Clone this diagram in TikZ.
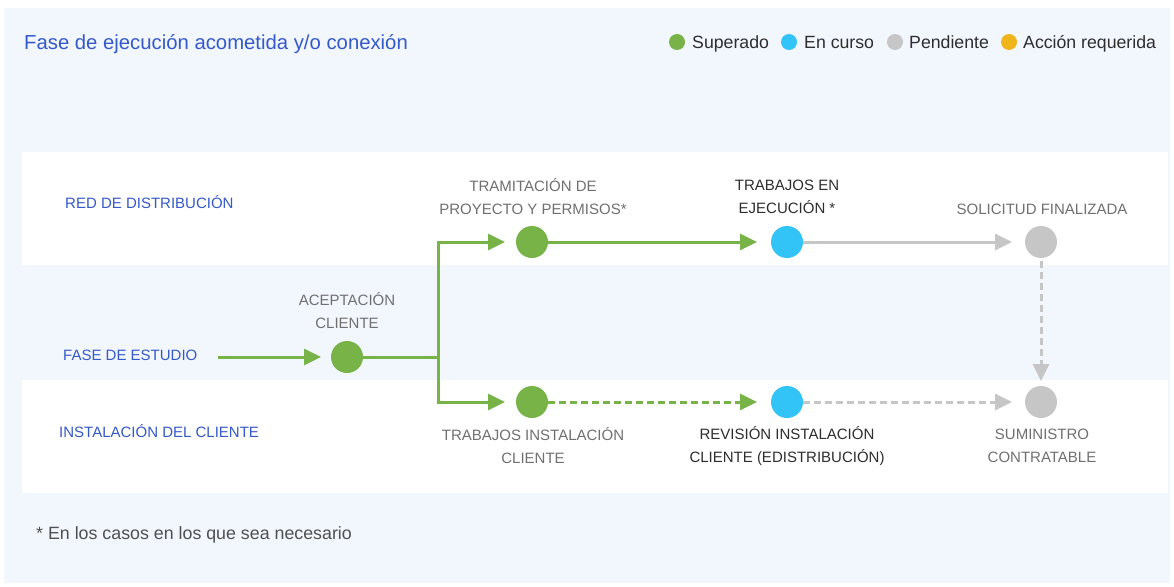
\documentclass[tikz,border=0pt]{standalone}
\usepackage{fontspec}
\setmainfont{Liberation Sans}
\usetikzlibrary{arrows.meta}
\definecolor{bgblue}{HTML}{F2F7FD}
\definecolor{okgreen}{HTML}{77B347}
\definecolor{curblue}{HTML}{33C4F7}
\definecolor{pendgray}{HTML}{C6C6C6}
\definecolor{actyellow}{HTML}{F0B51B}
\definecolor{titleblue}{HTML}{3559C9}
\definecolor{lblgray}{HTML}{707070}
\definecolor{lbldark}{HTML}{2E2E2E}
\definecolor{footgray}{HTML}{505050}
\begin{document}
\begin{tikzpicture}[x=1pt,y=-1pt,
  dot/.style={circle, minimum size=32pt, inner sep=0pt, outer sep=0pt, draw=none, fill=#1},
  legdot/.style={circle, minimum size=16pt, inner sep=0pt, fill=#1},
  legtext/.style={font=\fontsize{17.7}{20}\selectfont, text=lbldark, anchor=base west, inner sep=0pt},
  steplabel/.style={font=\fontsize{15}{23}\selectfont, align=center, text=lblgray, inner sep=0pt},
  darklabel/.style={steplabel, text=lbldark},
  sidelabel/.style={font=\fontsize{15}{18}\selectfont, text=titleblue, anchor=base west, inner sep=0pt},
  flow/.style={line width=3pt, draw=#1, -{Triangle[length=17pt,width=16pt]}},
  dashflow/.style={flow=#1, dash pattern=on 7pt off 4pt},
]
\useasboundingbox (0,0) rectangle (1174,586);
\fill[white] (0,0) rectangle (1174,586);
\fill[bgblue] (4,8) rectangle (1170,583);
\fill[white] (22,152) rectangle (1168,265);
\fill[white] (22,380) rectangle (1168,493);

% title and legend
\node[font=\fontsize{20.3}{24}\selectfont, text=titleblue, anchor=base west, inner sep=0pt] (title) at (24,49) {Fase de ejecución acometida y/o conexión};
\node[legdot=okgreen] (lg1) at (677,42) {};
\node[legtext] (lt1) at (692,48.3) {Superado};
\node[legdot=curblue] (lg2) at (789,42) {};
\node[legtext] (lt2) at (804,48.3) {En curso};
\node[legdot=pendgray] (lg3) at (895,42) {};
\node[legtext] (lt3) at (909,48.3) {Pendiente};
\node[legdot=actyellow] (lg4) at (1009,42) {};
\node[legtext] (lt4) at (1023,48.3) {Acción requerida};

% side labels
\node[sidelabel] (red) at (65,208.4) {RED DE DISTRIBUCIÓN};
\node[sidelabel] (fase) at (63,360.4) {FASE DE ESTUDIO};
\node[sidelabel] (inst) at (59,437.4) {INSTALACIÓN DEL CLIENTE};

% step circles
\node[dot=okgreen] (acep) at (347,357) {};
\node[dot=okgreen] (tram) at (532,242) {};
\node[dot=curblue] (ejec) at (787,242) {};
\node[dot=pendgray] (soli) at (1041,242) {};
\node[dot=okgreen] (trin) at (532,402) {};
\node[dot=curblue] (revi) at (787,402) {};
\node[dot=pendgray] (sumi) at (1041,402) {};

% step labels
\node[steplabel] (acepl) at (347,311) {ACEPTACIÓN\\CLIENTE};
\node[steplabel] (traml) at (533,197) {TRAMITACIÓN DE\\PROYECTO Y PERMISOS*};
\node[darklabel] (ejecl) at (787,197) {TRABAJOS EN\\EJECUCIÓN *};
\node[steplabel] (solil) at (1042,209) {SOLICITUD FINALIZADA};
\node[steplabel] (trinl) at (533,446) {TRABAJOS INSTALACIÓN\\CLIENTE};
\node[darklabel] (revil) at (787,446) {REVISIÓN INSTALACIÓN\\CLIENTE (EDISTRIBUCIÓN)};
\node[steplabel] (sumil) at (1042,446) {SUMINISTRO\\CONTRATABLE};

% footnote
\node[font=\fontsize{17.8}{20}\selectfont, text=footgray, anchor=base west, inner sep=0pt] (foot) at (36,539) {* En los casos en los que sea necesario};

% connectors
\coordinate (fstart) at (218,357);
\coordinate (split) at (438,357);
\draw[flow=okgreen, shorten >=10pt] (fstart) -- (acep);
\draw[line width=3pt, okgreen] (acep) -- (split);
\draw[flow=okgreen, shorten >=11pt] (split) |- (tram);
\draw[flow=okgreen, shorten >=11pt] (split) |- (trin);
\draw[flow=okgreen, shorten >=14pt] (tram) -- (ejec);
\draw[flow=pendgray, shorten >=13pt] (ejec) -- (soli);
\draw[dashflow=okgreen, shorten >=14pt] (trin) -- (revi);
\draw[dashflow=pendgray, shorten >=13pt] (revi) -- (sumi);
\draw[dashflow=pendgray, shorten >=5pt, shorten <=3pt] (soli) -- (sumi);
\end{tikzpicture}
\end{document}
